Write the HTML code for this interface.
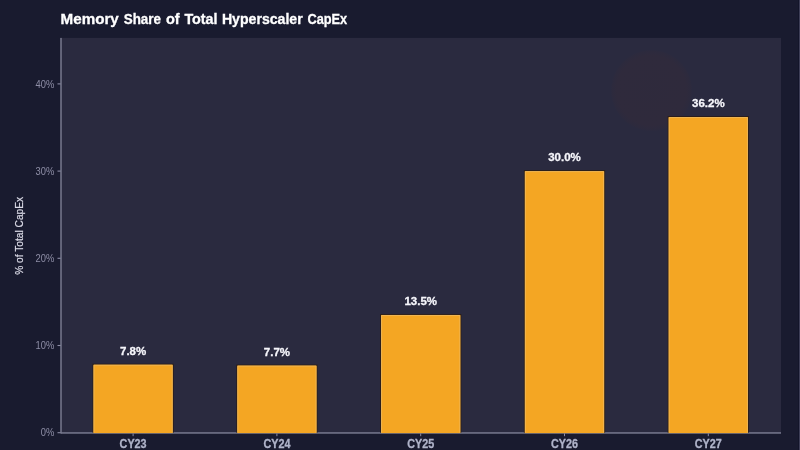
<!DOCTYPE html>
<html>
<head>
<meta charset="utf-8">
<title>Memory Share of Total Hyperscaler CapEx</title>
<style>
html,body{margin:0;padding:0;}
body{width:800px;height:450px;overflow:hidden;background:#191b2f;}
svg{display:block;will-change:transform;}
text{font-family:"Liberation Sans",Arial,sans-serif;}
</style>
</head>
<body>
<svg width="800" height="450" viewBox="0 0 800 450">
<defs>
<radialGradient id="glow" cx="0.5" cy="0.5" r="0.5">
<stop offset="0" stop-color="#5c2a20" stop-opacity="0.09"/>
<stop offset="0.85" stop-color="#5c2a20" stop-opacity="0.10"/>
<stop offset="0.96" stop-color="#5c2a20" stop-opacity="0.05"/>
<stop offset="1" stop-color="#5c2a20" stop-opacity="0"/>
</radialGradient>
</defs>
<rect x="0" y="0" width="800" height="450" fill="#191b2f"/>
<rect x="798" y="0" width="1" height="450" fill="#13152a"/>
<rect x="799" y="0" width="1" height="450" fill="#3d3e56"/>

<rect x="61.00" y="37.90" width="720.00" height="394.80" fill="#2a2a3f"/>
<circle cx="651.5" cy="90.5" r="41" fill="url(#glow)"/>
<g font-size="14" font-weight="bold" fill="#ffffff" stroke="#ffffff" stroke-width="0.3">
<text transform="translate(60.60,24.20) scale(1.085,1.000)">Memory</text>
<text transform="translate(123.70,24.20) scale(0.959,1.000)">Share</text>
<text transform="translate(165.90,24.20) scale(1.036,1.000)">of</text>
<text transform="translate(184.40,24.20) scale(1.025,1.000)">Total</text>
<text transform="translate(221.90,24.20) scale(1.009,1.000)">Hyperscaler</text>
<text transform="translate(307.40,24.20) scale(0.914,1.000)">CapEx</text>
</g>
<text transform="translate(23.40,235.80) rotate(-90)" text-anchor="middle" font-size="10.2" fill="#dcdce8" stroke="#dcdce8" stroke-width="0.2">% of Total CapEx</text>
<g stroke="#8c8ca4" stroke-width="1.1">
<line x1="57.50" x2="61.00" y1="432.70" y2="432.70"/>
<line x1="57.50" x2="61.00" y1="345.50" y2="345.50"/>
<line x1="57.50" x2="61.00" y1="258.30" y2="258.30"/>
<line x1="57.50" x2="61.00" y1="171.10" y2="171.10"/>
<line x1="57.50" x2="61.00" y1="83.90" y2="83.90"/>
</g>
<g font-size="10.4" fill="#8e8ea6" text-anchor="end">
<text transform="translate(54.3,436.45) scale(0.9,1)">0%</text>
<text transform="translate(54.3,349.25) scale(0.9,1)">10%</text>
<text transform="translate(54.3,262.05) scale(0.9,1)">20%</text>
<text transform="translate(54.3,174.85) scale(0.9,1)">30%</text>
<text transform="translate(54.3,87.65) scale(0.9,1)">40%</text>
</g>
<rect x="61.00" y="432.20" width="720.00" height="1.50" fill="#78798f"/>
<g fill="#2b1d16" opacity="0.9">
<rect x="92.45" y="363.68" width="81.30" height="69.02"/>
<rect x="236.25" y="364.56" width="81.30" height="68.14"/>
<rect x="380.05" y="313.98" width="81.30" height="118.72"/>
<rect x="523.85" y="170.10" width="81.30" height="262.60"/>
<rect x="667.65" y="116.04" width="81.30" height="316.66"/>
</g>
<g fill="#f4a623">
<rect x="93.45" y="364.68" width="79.30" height="68.42"/>
<rect x="237.25" y="365.56" width="79.30" height="67.54"/>
<rect x="381.05" y="314.98" width="79.30" height="118.12"/>
<rect x="524.85" y="171.10" width="79.30" height="262.00"/>
<rect x="668.65" y="117.04" width="79.30" height="316.06"/>
</g>
<g fill="none" stroke="#f0bb62" stroke-width="1" opacity="0.75">
<path d="M93.95 432.70 V365.18 H172.25 V432.70"/>
<path d="M237.75 432.70 V366.06 H316.05 V432.70"/>
<path d="M381.55 432.70 V315.48 H459.85 V432.70"/>
<path d="M525.35 432.70 V171.60 H603.65 V432.70"/>
<path d="M669.15 432.70 V117.54 H747.45 V432.70"/>
</g>
<rect x="60.25" y="37.90" width="1.50" height="395.55" fill="#78798f"/>
<g stroke="#8c8ca4" stroke-width="1">
<line x1="133.10" x2="133.10" y1="433.40" y2="436.20"/>
<line x1="276.90" x2="276.90" y1="433.40" y2="436.20"/>
<line x1="420.70" x2="420.70" y1="433.40" y2="436.20"/>
<line x1="564.50" x2="564.50" y1="433.40" y2="436.20"/>
<line x1="708.30" x2="708.30" y1="433.40" y2="436.20"/>
</g>
<g font-size="12" font-weight="bold" fill="#b0b4ca" stroke="#b0b4ca" stroke-width="0.3" text-anchor="middle" letter-spacing="0">
<text transform="translate(133.10,447.80) scale(0.9,1)">CY23</text>
<text transform="translate(276.90,447.80) scale(0.9,1)">CY24</text>
<text transform="translate(420.70,447.80) scale(0.9,1)">CY25</text>
<text transform="translate(564.50,447.80) scale(0.9,1)">CY26</text>
<text transform="translate(708.30,447.80) scale(0.9,1)">CY27</text>
</g>
<g font-size="11.8" font-weight="bold" fill="#f6f6fb" stroke="#f6f6fb" stroke-width="0.3" text-anchor="middle">
<text transform="translate(133.10,354.98) scale(0.975,1)">7.8%</text>
<text transform="translate(276.90,355.86) scale(0.975,1)">7.7%</text>
<text transform="translate(420.70,305.28) scale(0.975,1)">13.5%</text>
<text transform="translate(564.50,161.40) scale(0.975,1)">30.0%</text>
<text transform="translate(708.30,107.34) scale(0.975,1)">36.2%</text>
</g>
</svg>
</body>
</html>
